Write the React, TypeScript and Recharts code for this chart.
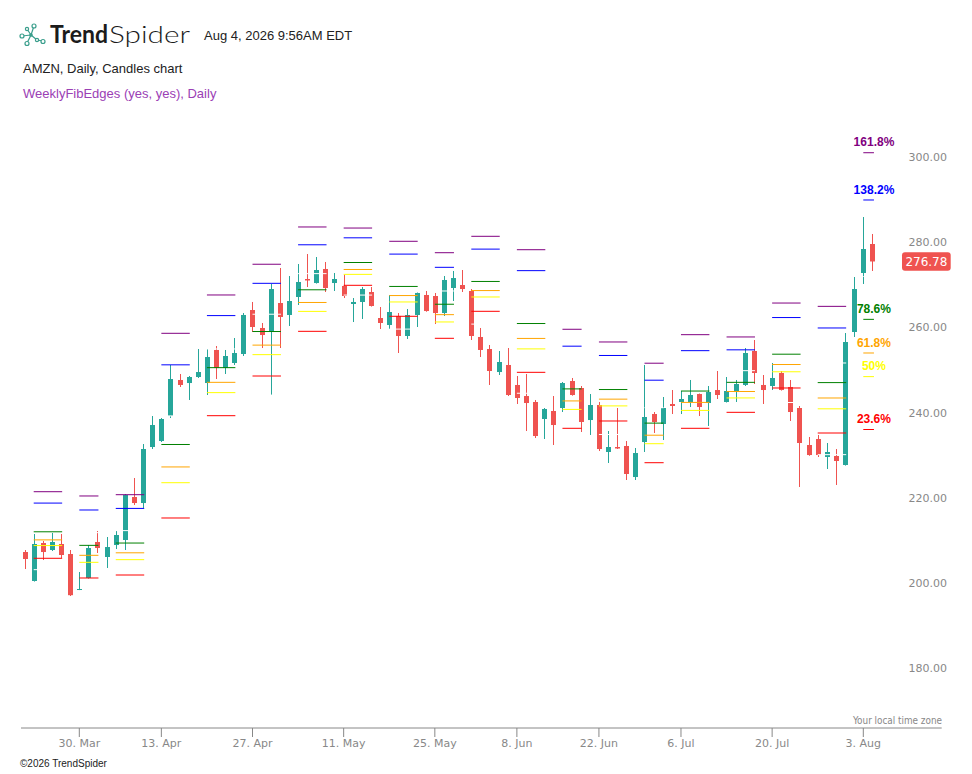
import React from "react";
import { ComposedChart, Bar, XAxis, YAxis, ReferenceLine, ReferenceDot } from "recharts";

// daily AMZN candles, 20 Mar .. 4 Aug 2026 (trading days only)
const opens = [
  208.63, 201.83, 210.74, 209.1, 210.51, 208.16, 199.83, 202.53, 210.98, 207.46,
  210.27, 211.45, 221.53, 220.12, 233.26, 234.67, 240.53, 248.98, 248.27, 249.68,
  248.27, 256.02, 251.79, 252.97, 255.08, 265.4, 261.18, 260.47, 267.04, 264.23,
  268.45, 272.67, 271.73, 275.02, 271.73, 271.03, 266.81, 267.28, 269.62, 263.52,
  261.88, 264.0, 259.3, 264.23, 268.92, 268.68, 264.69, 270.56, 271.26, 269.86,
  259.07, 256.25, 250.85, 252.5, 247.81, 245.22, 243.82, 239.83, 241.71, 242.41,
  248.74, 247.1, 239.59, 243.11, 232.09, 233.26, 233.5, 226.22, 234.43, 241.0,
  238.66, 243.35, 243.82, 243.82, 245.69, 243.58, 246.63, 243.82, 246.16, 247.81,
  255.78, 247.81, 247.57, 250.62, 247.34, 242.41, 233.73, 235.14, 230.92, 231.15,
  229.04, 260.24, 274.08, 280.88,
];
const highs = [
  209.1, 212.85, 211.21, 213.09, 212.85, 209.1, 203.94, 210.27, 213.56, 212.15,
  213.56, 222.24, 225.99, 233.96, 240.53, 240.06, 252.5, 250.39, 249.92, 256.25,
  256.25, 256.95, 256.02, 258.83, 264.69, 267.28, 262.35, 271.5, 275.25, 273.37,
  276.19, 278.53, 277.83, 276.66, 274.08, 273.61, 268.21, 270.79, 270.79, 266.1,
  268.92, 264.69, 265.63, 269.5, 269.86, 269.39, 273.37, 274.55, 274.78, 270.32,
  261.18, 257.19, 255.78, 256.48, 249.92, 250.39, 244.29, 242.41, 245.22, 248.51,
  249.45, 247.57, 245.69, 243.82, 237.01, 242.41, 234.67, 233.03, 252.5, 241.47,
  244.99, 246.63, 246.4, 248.98, 245.8, 247.57, 251.09, 249.68, 248.98, 256.48,
  258.36, 250.15, 252.97, 251.09, 248.98, 242.88, 235.61, 236.08, 234.2, 232.79,
  260.0, 273.14, 287.21, 283.23,
];
const lows = [
  204.64, 201.7, 206.75, 208.86, 207.22, 198.31, 199.7, 202.4, 208.4, 204.88,
  209.33, 209.1, 219.66, 218.95, 232.79, 234.43, 240.06, 247.34, 244.29, 249.45,
  245.46, 249.21, 250.39, 252.5, 254.61, 260.24, 256.48, 245.46, 256.48, 261.65,
  266.57, 270.79, 271.6, 269.62, 269.86, 268.21, 262.58, 263.29, 266.2, 260.94,
  260.94, 255.31, 258.6, 261.41, 265.0, 262.11, 263.99, 267.51, 269.62, 258.36,
  254.37, 247.81, 250.15, 245.22, 243.35, 237.01, 235.37, 235.14, 233.73, 241.47,
  245.3, 236.78, 236.08, 232.32, 229.51, 232.79, 225.52, 225.52, 232.09, 236.55,
  234.9, 241.0, 241.0, 242.64, 240.53, 238.19, 244.52, 243.7, 243.82, 247.57,
  248.04, 243.35, 246.63, 246.5, 239.36, 223.88, 231.2, 230.92, 228.1, 224.35,
  228.9, 259.07, 271.5, 274.55,
];
const closes = [
  206.99, 210.51, 208.63, 210.98, 207.93, 198.5, 199.95, 209.57, 209.57, 209.8,
  212.62, 222.0, 220.12, 232.79, 238.42, 239.83, 249.21, 247.81, 249.68, 250.85,
  254.37, 251.79, 254.61, 255.31, 264.23, 261.41, 259.53, 270.32, 263.76, 267.51,
  271.97, 272.32, 274.78, 270.56, 272.67, 268.68, 267.28, 270.32, 266.34, 262.35,
  264.93, 259.3, 264.23, 269.39, 265.16, 264.69, 272.44, 272.9, 270.32, 259.3,
  256.02, 251.09, 253.2, 245.46, 244.76, 243.58, 235.84, 242.18, 238.42, 248.27,
  245.46, 239.13, 243.11, 232.79, 233.26, 232.91, 226.93, 231.85, 240.3, 239.13,
  242.41, 242.88, 244.52, 245.46, 242.64, 246.16, 245.46, 246.4, 248.04, 255.31,
  250.62, 246.63, 249.45, 246.63, 241.47, 234.2, 231.38, 231.38, 232.09, 229.98,
  257.89, 270.32, 279.71, 276.78,
];

const tickIndex = [6, 15, 25, 35, 45, 54, 63, 72, 82, 92];
const tickLabels = ["30. Mar", "13. Apr", "27. Apr", "11. May", "25. May", "8. Jun", "22. Jun", "6. Jul", "20. Jul", "3. Aug"];
const priceTicks = [180, 200, 220, 240, 260, 280, 300];

// weekly fib edges: previous week's low/high, drawn over each week
const weekFrom = [1, 6, 10, 15, 20, 25, 30, 35, 40, 45, 49, 54, 59, 63, 68, 72, 77, 82, 87, 92];
const weekTo = [4.12, 8.1, 13.12, 18.12, 23.12, 28.12, 33.12, 38.12, 43.12, 47.1, 52.12, 57.12, 61.1, 66.12, 70.1, 75.12, 80.12, 85.12, 90.12, 93.17];
const weekLow = [204.49, 199.25, 200.02, 209.21, 235.77, 245.44, 256.22, 268.9, 260.92, 255.33, 262.09, 245.87, 233.68, 236.2, 225.59, 233.9, 238.38, 243.7, 231.47, 226.28];
const weekHigh = [215.79, 213.17, 213.65, 240.56, 256.26, 264.41, 273.93, 278.62, 273.65, 269.86, 274.82, 266.68, 250.49, 249.61, 242.48, 249.79, 251.17, 258.12, 252.97, 273.26];

const fibRatios = [0, 0.236, 0.5, 0.618, 0.786, 1, 1.382, 1.618];
const fibNames = ["0%", "23.6%", "50%", "61.8%", "78.6%", "100%", "138.2%", "161.8%"];
const fibColors = ["#ffffff", "#ff0000", "#ffff00", "#ffa500", "#008000", "#ffffff", "#0000ff", "#800080"];
const fibShown = [false, true, true, true, true, false, true, true];

const UP = "#26a69a";
const DOWN = "#ef5350";
const AXIS = "#888888";

const candles = opens.map((open, i) => ({ i, open, high: highs[i], low: lows[i], close: closes[i] }));
const lastWeek = weekFrom.length - 1;
const lastClose = closes[closes.length - 1];

function Candle(props: any) {
  const { x, y, width, height, payload } = props;
  const { open, high, low, close } = payload;
  const top = Math.min(y, y + height);
  const bottom = Math.max(y, y + height);
  const k = (bottom - top) / (high - low);
  const yOf = (v: number) => top + (high - v) * k;
  const cx = Math.round(x + width / 2) + 0.5;
  const color = close >= open ? UP : DOWN;
  const bTop = yOf(Math.max(open, close));
  const bBot = yOf(Math.min(open, close));
  return (
    <g>
      <line x1={cx} x2={cx} y1={top} y2={bottom} stroke={color} strokeWidth={1} />
      <rect x={cx - 2.5} y={bTop} width={5} height={Math.max(1, bBot - bTop)} fill={color} />
    </g>
  );
}

function PriceTick(props: any) {
  const { y, payload } = props;
  return (
    <text x={947} y={y - 1.7} textAnchor="end" fill={AXIS} fontSize={11} fontFamily="DejaVu Sans">
      {Number(payload.value).toFixed(2)}
    </text>
  );
}

function Logo() {
  const c = "#3a9e8c";
  return (
    <g stroke={c} fill="#fff" strokeWidth={1.2}>
      <line x1={22} y1={36} x2={31} y2={35} />
      <line x1={27} y1={29} x2={31} y2={35} />
      <line x1={31} y1={35} x2={27} y2={43} />
      <line x1={31} y1={35} x2={37} y2={40} />
      <line x1={31} y1={35} x2={34} y2={26} />
      <line x1={37} y1={40} x2={43} y2={41} />
      <circle cx={22} cy={36} r={2} />
      <circle cx={27} cy={29} r={1.6} />
      <circle cx={34} cy={26} r={2} />
      <circle cx={27} cy={43.5} r={2} />
      <circle cx={37} cy={40} r={1.6} />
      <circle cx={43} cy={41.5} r={2} />
      <circle cx={31} cy={35} r={1.2} fill={c} />
    </g>
  );
}

export default function App() {
  return (
    <div style={{ position: "absolute", left: 0, top: 0, width: 972, height: 774, background: "#fff" }}>
      <ComposedChart
        width={972}
        height={774}
        data={candles}
        margin={{ top: 120, right: 0, bottom: 16, left: 21 }}
      >
        <XAxis
          type="number"
          dataKey="i"
          domain={[-0.395, 100.6]}
          allowDataOverflow
          ticks={tickIndex}
          interval={0}
          tickFormatter={(v: number) => tickLabels[tickIndex.indexOf(v)]}
          axisLine={{ stroke: AXIS }}
          tickLine={{ stroke: AXIS }}
          tickSize={9}
          tickMargin={2}
          height={30}
          tick={{ fill: AXIS, fontSize: 11, fontFamily: "DejaVu Sans" }}
        />
        <YAxis
          orientation="right"
          type="number"
          domain={[167.347, 309.969]}
          allowDataOverflow
          ticks={priceTicks}
          interval={0}
          axisLine={false}
          tickLine={false}
          width={30.3}
          tick={(p: any) => <PriceTick {...p} />}
        />
        <Bar
          dataKey={(d: any) => [d.low, d.high]}
          barSize={5}
          isAnimationActive={false}
          shape={(p: any) => <Candle {...p} />}
        />
        {weekFrom.flatMap((from, w) =>
          fibRatios.map((r, k) => {
            const level = weekLow[w] + r * (weekHigh[w] - weekLow[w]);
            return (
              <ReferenceLine
                key={`fib-${w}-${k}`}
                segment={[
                  { x: from, y: level },
                  { x: weekTo[w], y: level },
                ]}
                stroke={fibColors[k]}
                strokeWidth={1}
                ifOverflow="visible"
              />
            );
          })
        )}
        {fibRatios.map((r, k) =>
          fibShown[k] ? (
            <ReferenceDot
              key={`lbl-${k}`}
              x={weekTo[lastWeek]}
              y={weekLow[lastWeek] + r * (weekHigh[lastWeek] - weekLow[lastWeek])}
              r={0}
              fill="none"
              stroke="none"
              ifOverflow="visible"
              label={(lp: any) => {
                const vb = lp.viewBox || {};
                const cx = (vb.x || 0) + (vb.width || 0) / 2;
                const cy = (vb.y || 0) + (vb.height || 0) / 2;
                return (
                  <text
                    x={cx}
                    y={cy - 6.4}
                    textAnchor="middle"
                    fill={fibColors[k]}
                    fontSize={12}
                    fontWeight="bold"
                    fontFamily="Liberation Sans"
                  >
                    {fibNames[k]}
                  </text>
                );
              }}
            />
          ) : null
        )}
        <ReferenceLine
          y={lastClose}
          stroke="none"
          strokeOpacity={0}
          label={(lp: any) => {
            const vb = lp.viewBox || {};
            const right = (vb.x || 0) + (vb.width || 0);
            const cy = vb.y || 0;
            return (
              <g>
                <rect x={right - 39.7} y={cy - 9.2} width={48.7} height={18.4} rx={3} fill={DOWN} />
                <text
                  x={right - 15.3}
                  y={cy + 4.3}
                  textAnchor="middle"
                  fill="#fff"
                  fontSize={12}
                  fontFamily="DejaVu Sans"
                >
                  {lastClose.toFixed(2)}
                </text>
              </g>
            );
          }}
        />
      </ComposedChart>
      <svg
        width={972}
        height={774}
        style={{ position: "absolute", left: 0, top: 0, pointerEvents: "none" }}
      >
        <Logo />
        <text x={50} y={43} fontFamily="Lato" fontWeight={700} fontSize={24} fill="#1b1b1b" textLength={58} lengthAdjust="spacingAndGlyphs">
          Trend
        </text>
        <text x={109} y={43} fontFamily="Lato" fontWeight={300} fontSize={24} fill="#1b1b1b" textLength={81} lengthAdjust="spacingAndGlyphs">
          Spider
        </text>
        <text x={204} y={40} fontFamily="Liberation Sans" fontSize={13} fill="#222">
          Aug 4, 2026 9:56AM EDT
        </text>
        <text x={23} y={72.7} fontFamily="Liberation Sans" fontSize={13} fill="#222">
          AMZN, Daily, Candles chart
        </text>
        <text x={23} y={97.5} fontFamily="Liberation Sans" fontSize={13} fill="#9b40b5">
          WeeklyFibEdges (yes, yes), Daily
        </text>
        <text x={942} y={724} textAnchor="end" fontFamily="DejaVu Sans Condensed" fontSize={10} fill={AXIS} textLength={89} lengthAdjust="spacingAndGlyphs">
          Your local time zone
        </text>
        <text x={20} y={767.3} fontFamily="Liberation Sans" fontSize={10} fill="#222">
          ©2026 TrendSpider
        </text>
      </svg>
    </div>
  );
}
